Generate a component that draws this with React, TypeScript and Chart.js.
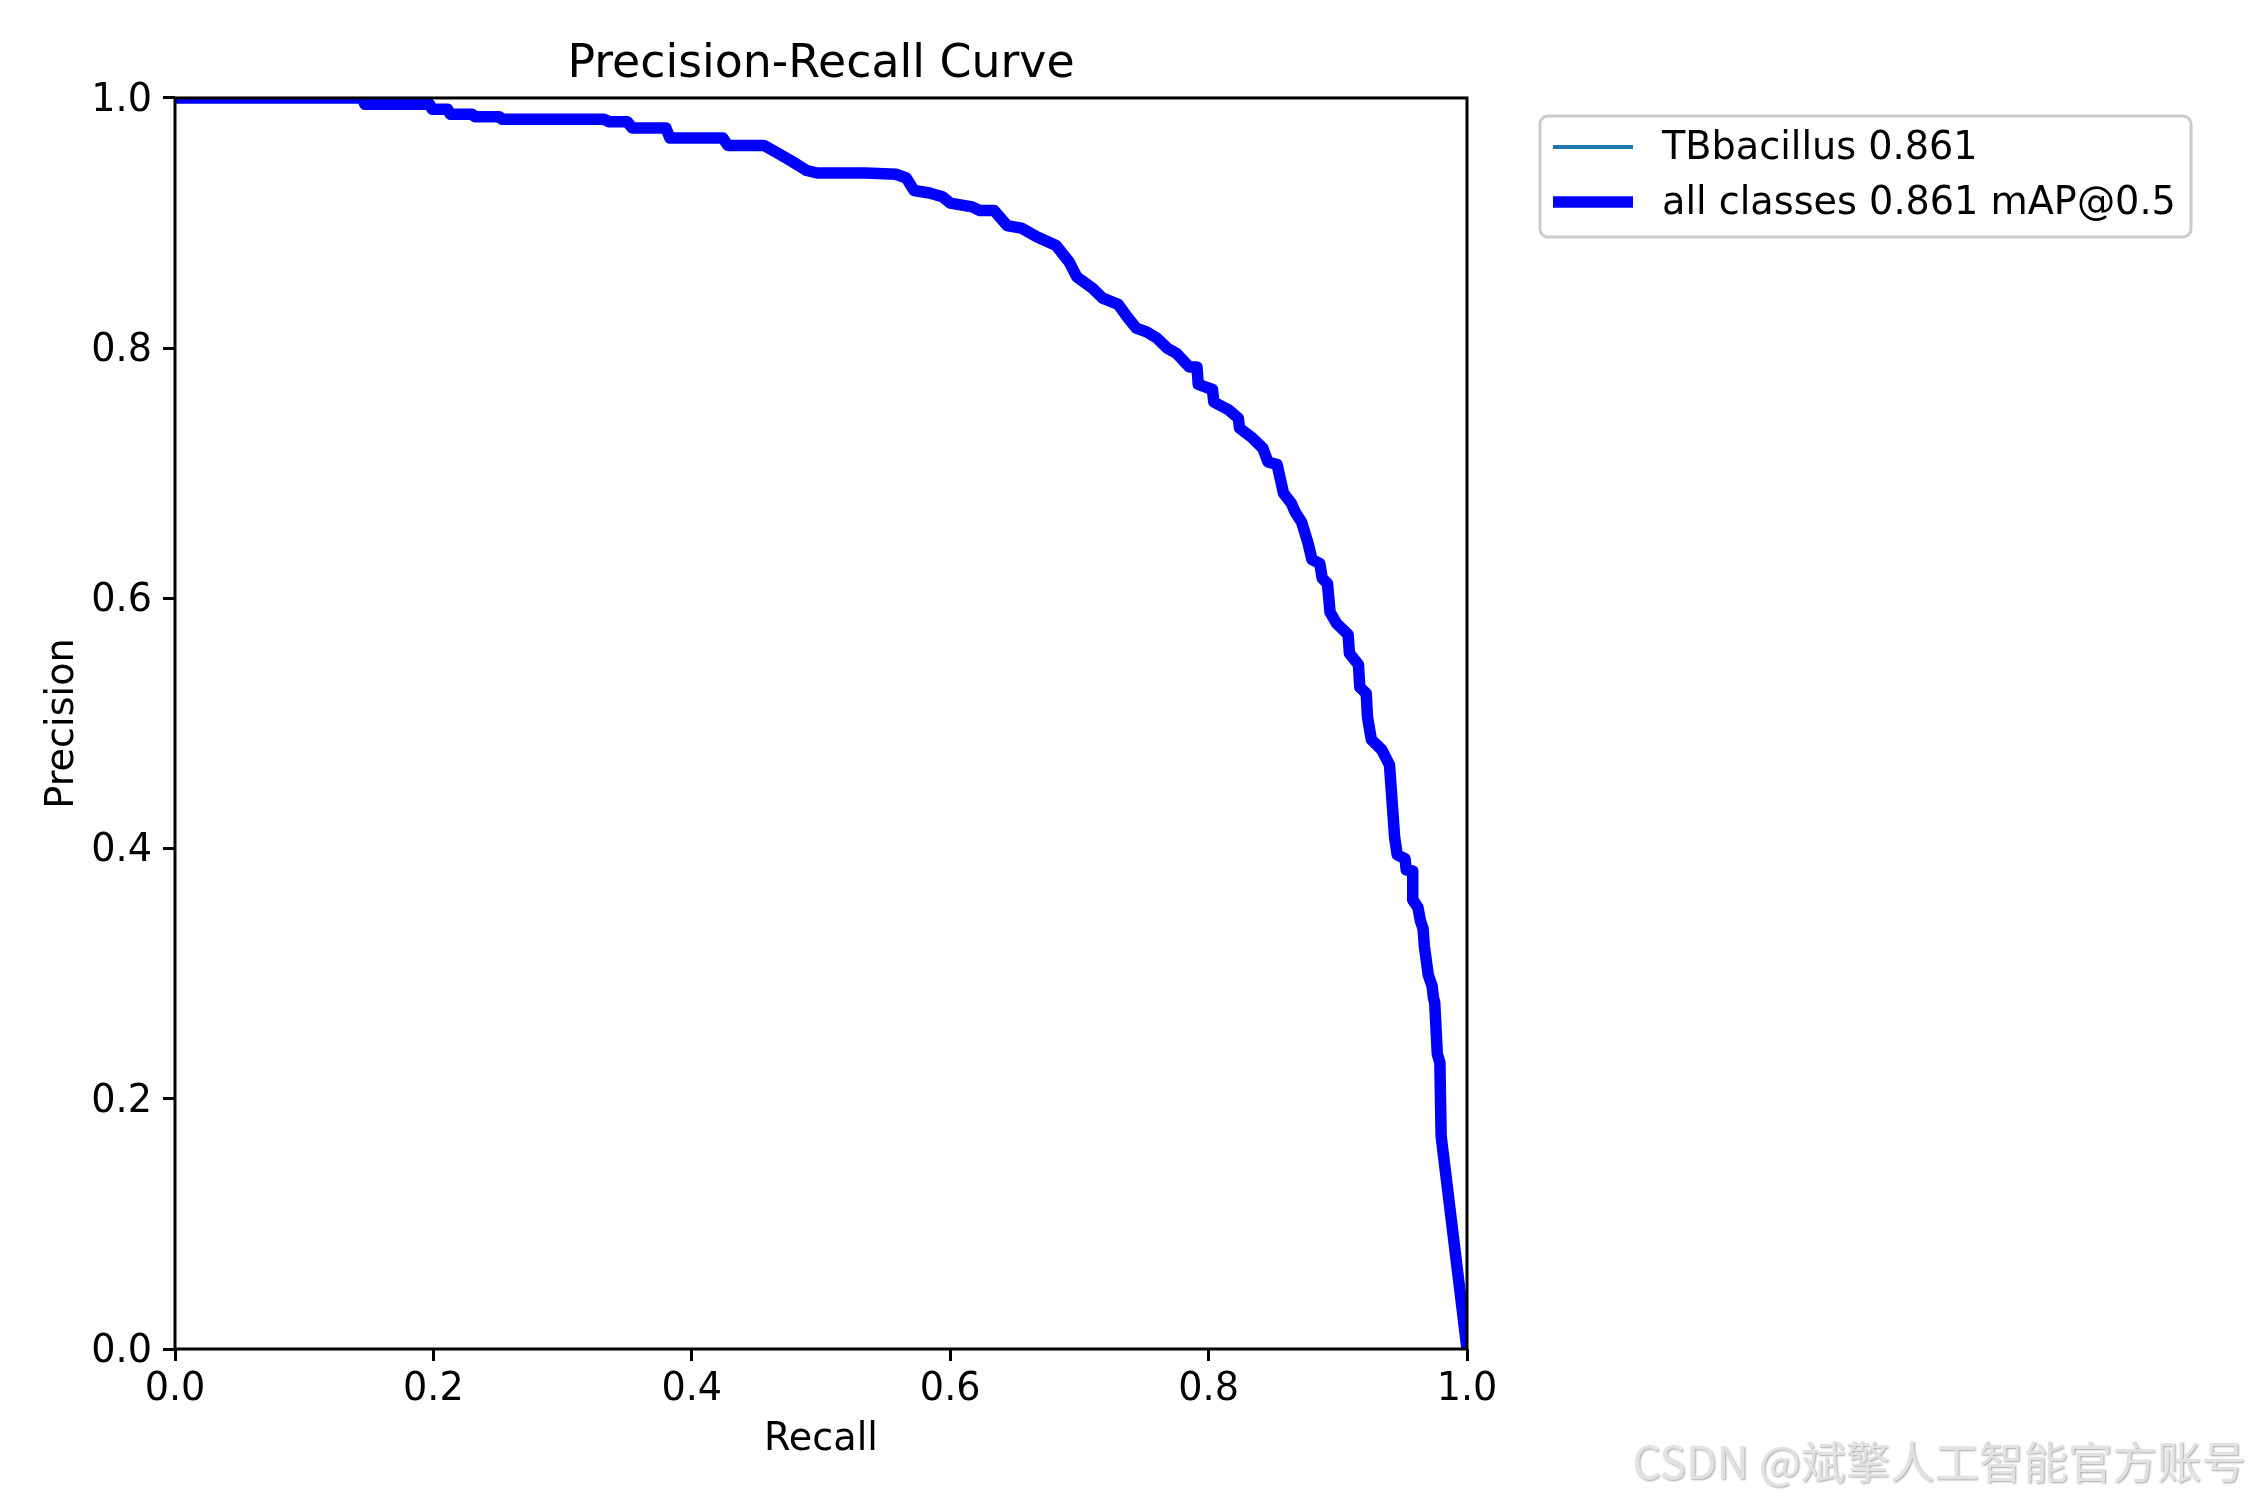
import { Chart, registerables, type ChartConfiguration, type Plugin } from "chart.js";
import { useEffect, useRef } from "react";

Chart.register(...registerables);

// PR curve vertices (recall on x, precision on y)
const recallValues = [
  0, 0.145, 0.147, 0.197, 0.199, 0.211, 0.213, 0.23, 0.232, 0.251, 0.253, 0.332,
  0.336, 0.35, 0.354, 0.38, 0.383, 0.424, 0.428, 0.456, 0.468, 0.478, 0.489,
  0.497, 0.535, 0.558, 0.566, 0.572, 0.584, 0.594, 0.6, 0.617, 0.623, 0.634,
  0.644, 0.655, 0.667, 0.682, 0.692, 0.698, 0.71, 0.718, 0.73, 0.737, 0.744,
  0.752, 0.76, 0.768, 0.775, 0.785, 0.791, 0.792, 0.803, 0.804, 0.815, 0.823,
  0.824, 0.833, 0.842, 0.846, 0.853, 0.858, 0.864, 0.867, 0.872, 0.877, 0.88,
  0.886, 0.888, 0.892, 0.894, 0.899, 0.908, 0.909, 0.916, 0.917, 0.922, 0.923,
  0.926, 0.934, 0.94, 0.944, 0.946, 0.952, 0.953, 0.958, 0.958, 0.962, 0.964,
  0.966, 0.967, 0.97, 0.973, 0.974, 0.975, 0.977, 0.979, 0.98, 1.0,
];
const precisionValues = [
  1.0, 1.0, 0.995, 0.995, 0.991, 0.991, 0.987, 0.987, 0.985, 0.985, 0.983, 0.983,
  0.981, 0.981, 0.976, 0.976, 0.968, 0.968, 0.962, 0.962, 0.955, 0.949, 0.942,
  0.94, 0.94, 0.939, 0.936, 0.926, 0.924, 0.921, 0.916, 0.913, 0.91, 0.91,
  0.898, 0.896, 0.889, 0.882, 0.869, 0.857, 0.848, 0.84, 0.835, 0.825, 0.816,
  0.813, 0.808, 0.8, 0.796, 0.785, 0.785, 0.771, 0.767, 0.757, 0.751, 0.744,
  0.736, 0.729, 0.72, 0.709, 0.707, 0.684, 0.676, 0.669, 0.661, 0.644, 0.631,
  0.628, 0.616, 0.612, 0.589, 0.58, 0.571, 0.556, 0.547, 0.529, 0.524, 0.505,
  0.487, 0.479, 0.467, 0.409, 0.395, 0.392, 0.383, 0.382, 0.359, 0.353, 0.342,
  0.336, 0.322, 0.299, 0.29, 0.281, 0.277, 0.236, 0.229, 0.17, 0.0,
];

const classLabel = "TBbacillus 0.861";
const allLabel = "all classes 0.861 mAP@0.5";
const axisTicks = [0, 0.2, 0.4, 0.6, 0.8, 1.0];
const watermark = "CSDN @斌擎人工智能官方账号";

const FONT = "DejaVu Sans";
const W = 2250;
const H = 1500;
const TXT = 38.2;

// spines on all four sides, drawn over the curve like matplotlib
const framePlugin: Plugin<"line"> = {
  id: "frame",
  afterDatasetsDraw(chart) {
    const { ctx, chartArea: a } = chart;
    ctx.save();
    ctx.strokeStyle = "#000";
    ctx.lineWidth = 3;
    ctx.strokeRect(a.left, a.top, a.right - a.left, a.bottom - a.top);
    ctx.restore();
  },
};

// legend box outside the axes, upper right, plus the watermark
const legendPlugin: Plugin<"line"> = {
  id: "mplLegend",
  afterDraw(chart) {
    const { ctx } = chart;
    const x = 1540, y = 116, w = 651, h = 121, r = 8;
    ctx.save();
    ctx.beginPath();
    ctx.roundRect(x, y, w, h, r);
    ctx.fillStyle = "rgba(255,255,255,0.8)";
    ctx.fill();
    ctx.strokeStyle = "#cccccc";
    ctx.lineWidth = 3;
    ctx.stroke();
    chart.data.datasets.forEach((ds, i) => {
      const cy = 147 + i * 55;
      ctx.beginPath();
      ctx.moveTo(1553, cy);
      ctx.lineTo(1633, cy);
      ctx.strokeStyle = ds.borderColor as string;
      ctx.lineWidth = ds.borderWidth as number;
      ctx.stroke();
      ctx.fillStyle = "#000";
      ctx.font = `${TXT}px "${FONT}"`;
      ctx.textBaseline = "middle";
      ctx.textAlign = "left";
      ctx.fillText(ds.label ?? "", 1662, cy + 2);
    });
    ctx.font = `44.5px "Noto Sans CJK SC"`;
    ctx.textAlign = "right";
    ctx.textBaseline = "middle";
    ctx.shadowColor = "rgba(0,0,0,0.35)";
    ctx.shadowOffsetX = 1;
    ctx.shadowOffsetY = 1;
    ctx.shadowBlur = 2;
    ctx.fillStyle = "#e2e2e2";
    ctx.fillText(watermark, 2246, 1462);
    ctx.restore();
  },
};

export default function App() {
  const canvasRef = useRef<HTMLCanvasElement | null>(null);
  const chartRef = useRef<Chart<"line"> | null>(null);

  useEffect(() => {
    if (!canvasRef.current) return;
    chartRef.current?.destroy();

    const points = recallValues.map((r, i) => ({ x: r, y: precisionValues[i] }));
    const tickFont = { family: FONT, size: TXT };
    const tickGrid = {
      display: true,
      drawOnChartArea: false,
      drawTicks: true,
      tickLength: 12,
      tickWidth: 3,
      tickColor: "#000",
    };

    const config: ChartConfiguration<"line", { x: number; y: number }[]> = {
      type: "line",
      data: {
        datasets: [
          {
            label: classLabel,
            data: points,
            borderColor: "#1f77b4",
            borderWidth: 3.8,
            pointRadius: 0,
            tension: 0,
            clip: 0,
            order: 2,
          },
          {
            label: allLabel,
            data: points,
            borderColor: "#0000ff",
            borderWidth: 11.5,
            borderJoinStyle: "round",
            borderCapStyle: "butt",
            pointRadius: 0,
            tension: 0,
            clip: 0,
            order: 1,
          },
        ],
      },
      options: {
        responsive: false,
        devicePixelRatio: 1,
        animation: false,
        layout: { padding: { top: 38, right: 783, bottom: 32, left: 0 } },
        plugins: {
          legend: { display: false },
          tooltip: { enabled: false },
          title: {
            display: true,
            fullSize: false,
            text: "Precision-Recall Curve",
            color: "#000",
            font: { family: FONT, size: 45.8, weight: "normal" },
            padding: { top: 0, bottom: 5 },
          },
        },
        scales: {
          x: {
            type: "linear",
            min: 0,
            max: 1,
            afterFit: (s) => {
              s.height = 119;
            },
            afterBuildTicks: (s) => {
              s.ticks = axisTicks.map((v) => ({ value: v }));
            },
            ticks: {
              color: "#000",
              font: tickFont,
              padding: 6,
              maxRotation: 0,
              callback: (v) => Number(v).toFixed(1),
            },
            grid: tickGrid,
            border: { display: false },
            title: {
              display: true,
              text: "Recall",
              color: "#000",
              font: tickFont,
              padding: { top: 0, bottom: 5 },
            },
          },
          y: {
            type: "linear",
            min: 0,
            max: 1,
            afterFit: (s) => {
              s.width = 175;
            },
            afterBuildTicks: (s) => {
              s.ticks = axisTicks.map((v) => ({ value: v }));
            },
            ticks: {
              color: "#000",
              font: tickFont,
              padding: 11,
              labelOffset: 3,
              callback: (v) => Number(v).toFixed(1),
            },
            grid: tickGrid,
            border: { display: false },
            title: {
              display: true,
              text: "Precision",
              color: "#000",
              font: tickFont,
              padding: { top: 40, bottom: 0 },
            },
          },
        },
      },
      plugins: [framePlugin, legendPlugin],
    };

    chartRef.current = new Chart(canvasRef.current, config);

    return () => {
      chartRef.current?.destroy();
      chartRef.current = null;
    };
  }, []);

  return (
    <div style={{ position: "absolute", left: 0, top: 0, width: W, height: H, background: "#fff" }}>
      <canvas ref={canvasRef} width={W} height={H}></canvas>
    </div>
  );
}
